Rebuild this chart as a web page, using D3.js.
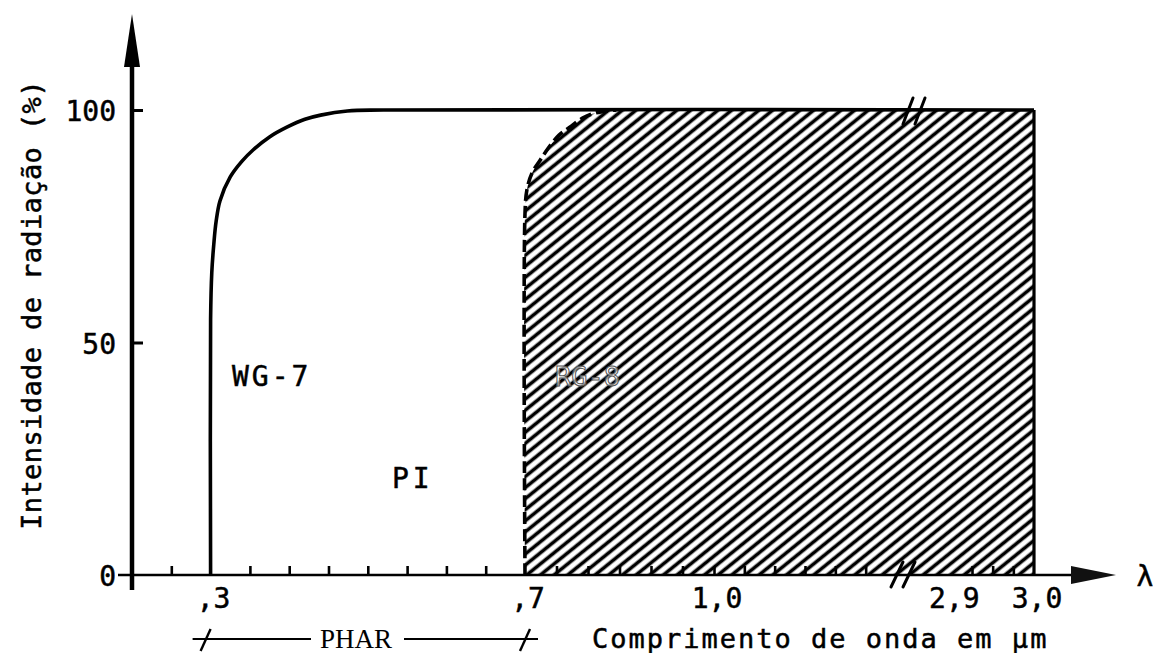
<!DOCTYPE html>
<html>
<head>
<meta charset="utf-8">
<script src="https://cdn.jsdelivr.net/npm/d3@7"></script>
<style>
  body { margin: 0; background: #fff; }
  svg { display: block; }
  .tw { font-family: "DejaVu Sans Mono", monospace; fill: #000; stroke: #000; stroke-width: 0.5; }
</style>
</head>
<body>
<svg id="chart" width="1153" height="653"></svg>
<script>
// Transmission curves: wavelength (µm) vs. radiation intensity (%)
const wgLambda = [0.3, 0.3, 0.3015, 0.304, 0.307, 0.312, 0.325, 0.34, 0.354, 0.375, 0.397, 0.42, 0.44, 0.474, 0.52, 3.0];
const wgValue  = [0, 55, 65, 71, 76, 80.5, 85.6, 89, 91.4, 94.2, 96.3, 98, 98.9, 99.8, 100, 100];
const rgLambda = [0.7, 0.7, 0.703, 0.711, 0.724, 0.737, 0.754, 0.771, 0.792, 0.813, 0.845];
const rgValue  = [0, 77.8, 82.8, 86.4, 89.2, 91.8, 94.6, 96.3, 98.3, 99.4, 100];
const rgEndLambda = 3.0;

// Axis ticks and labels
const yTickValues = [50, 100];
const yLabelValues = [0, 50, 100];
const yLabelTexts = ["0", "50", "100"];
const xMinorTicks = [0.25, 0.35, 0.4, 0.45, 0.5, 0.55, 0.6, 0.65,
                     0.75, 0.8, 0.85, 0.9, 0.95, 1.0, 1.05, 1.1, 1.15, 1.2, 1.25,
                     2.925, 2.95, 2.975];
const xLabelValues = [0.3, 0.7, 1.0, 2.9, 3.0];
const xLabelTexts = [",3", ",7", "1,0", "2,9", "3,0"];
const pharRange = [0.3, 0.7];
const axisBreak = [1.3, 2.85];

const svg = d3.select("#chart");

// Broken wavelength axis: compressed gap between 1,3 and 2,85 µm
const x = d3.scaleLinear()
  .domain([0.2, 0.7, 1.0, axisBreak[0], axisBreak[1], 3.0])
  .range([132, 525, 714, 896, 910, 1034]);
const y = d3.scaleLinear().domain([0, 100]).range([575, 110]);

const x0 = x(0.2), y0 = y(0);

// Diagonal hatching for the RG-8 band
const defs = svg.append("defs");
const step = 8.6;
const pat = defs.append("pattern")
  .attr("id", "hatch")
  .attr("patternUnits", "userSpaceOnUse")
  .attr("width", step).attr("height", step)
  .attr("patternTransform", "rotate(-39)");
pat.append("line")
  .attr("x1", -1).attr("x2", step + 1)
  .attr("y1", step / 2).attr("y2", step / 2)
  .attr("stroke", "#000").attr("stroke-width", 3.6);

const wgPts = wgLambda.map((l, i) => [l, wgValue[i]]);
const rgPts = rgLambda.map((l, i) => [l, rgValue[i]]);

const line = d3.line()
  .x(d => x(d[0])).y(d => y(d[1]))
  .curve(d3.curveCatmullRom.alpha(0.5));

// Hatched RG-8 region
const rgPath = line(rgPts);
svg.append("path")
  .attr("d", rgPath + `L${x(rgEndLambda)},${y(100)}L${x(rgEndLambda)},${y(0)}Z`)
  .attr("fill", "url(#hatch)");

// RG-8 edge (dashed) and right boundary
svg.append("path")
  .attr("d", rgPath)
  .attr("fill", "none").attr("stroke", "#000")
  .attr("stroke-width", 3.6)
  .attr("stroke-dasharray", "12,5");
svg.append("line")
  .attr("x1", x(rgEndLambda)).attr("x2", x(rgEndLambda))
  .attr("y1", y(100)).attr("y2", y(0))
  .attr("stroke", "#000").attr("stroke-width", 3.2);

// WG-7 curve
svg.append("path")
  .attr("d", line(wgPts))
  .attr("fill", "none").attr("stroke", "#000")
  .attr("stroke-width", 3.6)
  .attr("stroke-linejoin", "round");

// Y axis with arrow
svg.append("line")
  .attr("x1", x0).attr("x2", x0)
  .attr("y1", 60).attr("y2", 590)
  .attr("stroke", "#000").attr("stroke-width", 4.5);
svg.append("path")
  .attr("d", `M${x0},14L${x0 - 8},67L${x0 + 8},67Z`)
  .attr("fill", "#000");

const yAxis = d3.axisRight(y).tickValues(yTickValues).tickSize(11).tickFormat("");
const gy = svg.append("g").attr("transform", `translate(${x0},0)`).call(yAxis);
gy.select(".domain").remove();
gy.selectAll(".tick line").attr("stroke", "#000").attr("stroke-width", 3);

svg.selectAll(".ylab")
  .data(yLabelValues)
  .join("text")
  .attr("class", "tw ylab")
  .attr("x", 116)
  .attr("y", d => y(d) + 11)
  .attr("text-anchor", "end")
  .attr("font-size", 28)
  .text((d, i) => yLabelTexts[i]);

// X axis with arrow
svg.append("line")
  .attr("x1", 118).attr("x2", 1075)
  .attr("y1", y0).attr("y2", y0)
  .attr("stroke", "#000").attr("stroke-width", 2.6);
svg.append("path")
  .attr("d", `M1116,${y0}L1071,${y0 - 9}L1071,${y0 + 9}Z`)
  .attr("fill", "#111");

const xAxis = d3.axisTop(x).tickValues(xMinorTicks).tickSize(9).tickFormat("");
const gx = svg.append("g").attr("transform", `translate(0,${y0})`).call(xAxis);
gx.select(".domain").remove();
gx.selectAll(".tick line").attr("stroke", "#000").attr("stroke-width", 2.6);

// Axis break marks
const bx = (x(axisBreak[0]) + x(axisBreak[1])) / 2;
[-6, 6].forEach(o => {
  svg.append("line")
    .attr("x1", bx + o - 6).attr("y1", y0 + 12)
    .attr("x2", bx + o + 6).attr("y2", y0 - 13)
    .attr("stroke", "#000").attr("stroke-width", 3).attr("stroke-linecap", "round");
  svg.append("line")
    .attr("x1", bx + o + 6).attr("y1", y(100) + 14)
    .attr("x2", bx + o + 16).attr("y2", y(100) - 12)
    .attr("stroke", "#000").attr("stroke-width", 3).attr("stroke-linecap", "round");
});

svg.selectAll(".xlab")
  .data(xLabelValues)
  .join("text")
  .attr("class", "tw xlab")
  .attr("x", d => x(d) + 3)
  .attr("y", 608)
  .attr("text-anchor", "middle")
  .attr("font-size", 28)
  .text((d, i) => xLabelTexts[i]);

svg.append("text")
  .attr("class", "tw")
  .attr("x", 1145).attr("y", 586)
  .attr("text-anchor", "middle")
  .attr("font-size", 28)
  .text("λ");

// Axis titles
svg.append("text")
  .attr("class", "tw")
  .attr("transform", "translate(31,305) rotate(-90)")
  .attr("text-anchor", "middle")
  .attr("dominant-baseline", "central")
  .attr("font-size", 27)
  .attr("letter-spacing", 0.4)
  .text("Intensidade de radiação (%)");

svg.append("text")
  .attr("class", "tw")
  .attr("x", 592).attr("y", 648)
  .attr("font-size", 27)
  .attr("letter-spacing", 2)
  .text("Comprimento de onda em µm");

// PHAR bracket
const pY = 639;
const pL = x(pharRange[0]), pR = x(pharRange[1]);
const pMid = 356;
svg.append("line").attr("x1", pL - 18).attr("x2", pMid - 45).attr("y1", pY).attr("y2", pY)
  .attr("stroke", "#000").attr("stroke-width", 2);
svg.append("line").attr("x1", pMid + 48).attr("x2", pR + 13).attr("y1", pY).attr("y2", pY)
  .attr("stroke", "#000").attr("stroke-width", 2);
[pL - 5, pR].forEach(px => {
  svg.append("line")
    .attr("x1", px - 5).attr("y1", pY + 12)
    .attr("x2", px + 5).attr("y2", pY - 10)
    .attr("stroke", "#000").attr("stroke-width", 2.4);
});
svg.append("text")
  .attr("x", pMid).attr("y", 648)
  .attr("text-anchor", "middle")
  .attr("font-family", "Liberation Serif, serif")
  .attr("font-size", 27)
  .attr("fill", "#000")
  .text("PHAR");

// Region labels
svg.append("text")
  .attr("class", "tw")
  .attr("x", 232).attr("y", 386)
  .attr("font-size", 28)
  .attr("letter-spacing", 3)
  .text("WG-7");

svg.append("text")
  .attr("class", "tw")
  .attr("x", 392).attr("y", 488)
  .attr("font-size", 28)
  .attr("letter-spacing", 4)
  .text("PI");

svg.append("text")
  .attr("x", 555).attr("y", 386)
  .attr("font-family", "DejaVu Sans Mono, monospace")
  .attr("font-size", 27)
  .attr("fill", "#fff")
  .attr("fill-opacity", 0.6)
  .attr("stroke", "#555")
  .attr("stroke-width", 1)
  .text("RG-8");
</script>
</body>
</html>
